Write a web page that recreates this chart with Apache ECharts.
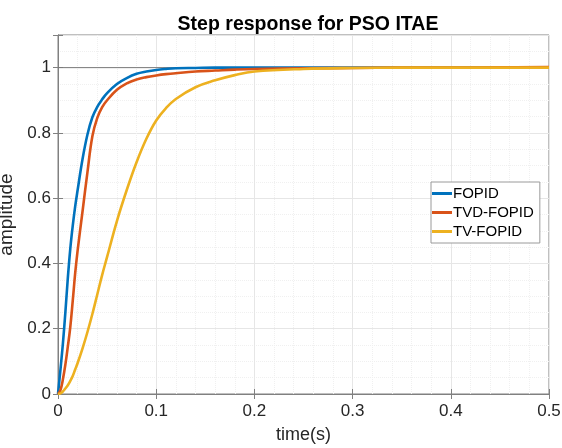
<!DOCTYPE html>
<html>
<head>
<meta charset="utf-8">
<script src="https://cdn.jsdelivr.net/npm/echarts@6/dist/echarts.min.js"></script>
<style>html,body{margin:0;padding:0;background:#fff}#c{width:562px;height:448px}</style>
</head>
<body>
<div id="c"></div>
<script>
var titleText = 'Step response for PSO ITAE';
var xLabel = 'time(s)';
var yLabel = 'amplitude';
var seriesNames = ['FOPID', 'TVD-FOPID', 'TV-FOPID'];
var time = [0, 0.0025, 0.005, 0.0075, 0.01, 0.0125, 0.015, 0.0175, 0.02, 0.025, 0.03, 0.035, 0.04, 0.045, 0.05, 0.06, 0.07, 0.08, 0.09, 0.1, 0.11, 0.12, 0.14, 0.16, 0.18, 0.2, 0.25, 0.3, 0.35, 0.4, 0.45, 0.5];
var fopid = [0, 0.075, 0.155, 0.25, 0.355, 0.445, 0.515, 0.575, 0.625, 0.72, 0.795, 0.848, 0.88, 0.903, 0.922, 0.95, 0.968, 0.981, 0.988, 0.993, 0.996, 0.998, 0.999, 1.0, 1.0, 1.0, 1.0, 1.0, 1.0, 1.0, 1.0, 1.0];
var tvdFopid = [0, 0.012, 0.045, 0.09, 0.145, 0.205, 0.285, 0.37, 0.44, 0.56, 0.68, 0.79, 0.846, 0.879, 0.9, 0.932, 0.952, 0.964, 0.971, 0.976, 0.98, 0.983, 0.988, 0.991, 0.994, 0.996, 0.998, 0.999, 1.0, 1.0, 1.001, 1.002];
var tvFopid = [0, 0.002, 0.008, 0.017, 0.027, 0.04, 0.055, 0.075, 0.095, 0.14, 0.19, 0.245, 0.305, 0.365, 0.42, 0.53, 0.625, 0.71, 0.782, 0.838, 0.876, 0.904, 0.94, 0.961, 0.977, 0.988, 0.996, 0.999, 1.0, 1.0, 1.0, 1.0];
var refLevel = 1;
var xTicks = {min: 0, max: 0.5, interval: 0.1};
var yTicks = {min: 0, max: 1.1, interval: 0.2};

function pairs(xs, ys) { return xs.map(function (x, i) { return [x, ys[i]]; }); }

var font = 'Liberation Sans, Arial, Helvetica, sans-serif';
var axisGray = '#808080';
var colors = ['#0072BD', '#D95319', '#EDB120'];
var chart = echarts.init(document.getElementById('c'), null, {renderer: 'canvas'});

var labelStyle = {color: '#262626', fontSize: 17, fontFamily: font};
var commonX = {
  type: 'value', min: xTicks.min, max: xTicks.max, interval: xTicks.interval
};
var commonY = {
  type: 'value', min: yTicks.min, max: yTicks.max, interval: yTicks.interval
};

function curve(i, data) {
  return {
    name: seriesNames[i], type: 'line', symbol: 'none', smooth: 0.4, z: 3 + i,
    data: data, itemStyle: {color: colors[i]}, lineStyle: {width: 2.6, color: colors[i]}
  };
}

var option = {
  animation: false,
  backgroundColor: '#fff',
  title: {
    text: titleText, left: 303, top: 10, textAlign: 'center',
    textStyle: {fontFamily: font, fontSize: 19.5, fontWeight: 'bold', color: '#000'}
  },
  grid: {left: 58, right: 13, top: 35, bottom: 54, containLabel: false, outerBoundsMode: 'none',
         show: true, borderColor: axisGray, borderWidth: 1, backgroundColor: '#fff'},
  legend: {
    data: seriesNames, orient: 'vertical', left: 431, top: 182,
    itemWidth: 20, itemHeight: 3, itemGap: 4,
    padding: [4, 6, 4, 1],
    backgroundColor: '#fff', borderColor: '#9a9a9a', borderWidth: 1,
    textStyle: {fontFamily: font, fontSize: 15, color: '#000', padding: [0, 0, 0, -4]},
    icon: 'rect'
  },
  xAxis: [
    Object.assign({}, commonX, {
      name: xLabel, nameLocation: 'middle', nameGap: 32,
      nameTextStyle: {fontFamily: font, fontSize: 18, color: '#262626'},
      axisLine: {show: true, lineStyle: {color: axisGray}},
      axisTick: {show: true, inside: true, length: 5, lineStyle: {color: axisGray}},
      axisLabel: Object.assign({margin: 9}, labelStyle),
      splitLine: {show: true, lineStyle: {color: '#e6e6e6', width: 1}},
      minorTick: {show: false, splitNumber: 5},
      minorSplitLine: {show: true, lineStyle: {color: '#f0f0f0', type: 'dotted', width: 1}}
    }),
    Object.assign({}, commonX, {
      position: 'top',
      axisLine: {show: true, lineStyle: {color: axisGray}},
      axisTick: {show: true, inside: true, length: 5, lineStyle: {color: axisGray}},
      axisLabel: {show: false}, splitLine: {show: false}
    })
  ],
  yAxis: [
    Object.assign({}, commonY, {
      name: yLabel, nameLocation: 'middle', nameGap: 26,
      nameTextStyle: {fontFamily: font, fontSize: 19, color: '#262626'},
      axisLine: {show: true, lineStyle: {color: axisGray}},
      axisTick: {show: true, inside: true, length: 5, lineStyle: {color: axisGray}},
      axisLabel: Object.assign({margin: 7, formatter: function (v) { return v > 1.05 ? '' : String(+v.toFixed(1)); }}, labelStyle),
      splitLine: {show: true, lineStyle: {color: '#e6e6e6', width: 1}},
      minorTick: {show: false, splitNumber: 4},
      minorSplitLine: {show: true, lineStyle: {color: '#f0f0f0', type: 'dotted', width: 1}}
    }),
    Object.assign({}, commonY, {
      position: 'right',
      axisLine: {show: true, lineStyle: {color: axisGray}},
      axisTick: {show: true, inside: true, length: 5, lineStyle: {color: axisGray}},
      axisLabel: {show: false}, splitLine: {show: false}
    })
  ],
  series: [
    {
      name: 'ref', type: 'line', silent: true, symbol: 'none', z: 1,
      data: [[xTicks.min, refLevel], [xTicks.max, refLevel]],
      itemStyle: {color: '#7a7a7a'},
      lineStyle: {color: '#7a7a7a', width: 1}
    },
    curve(0, pairs(time, fopid)),
    curve(1, pairs(time, tvdFopid)),
    curve(2, pairs(time, tvFopid))
  ]
};
chart.setOption(option);
</script>
</body>
</html>
